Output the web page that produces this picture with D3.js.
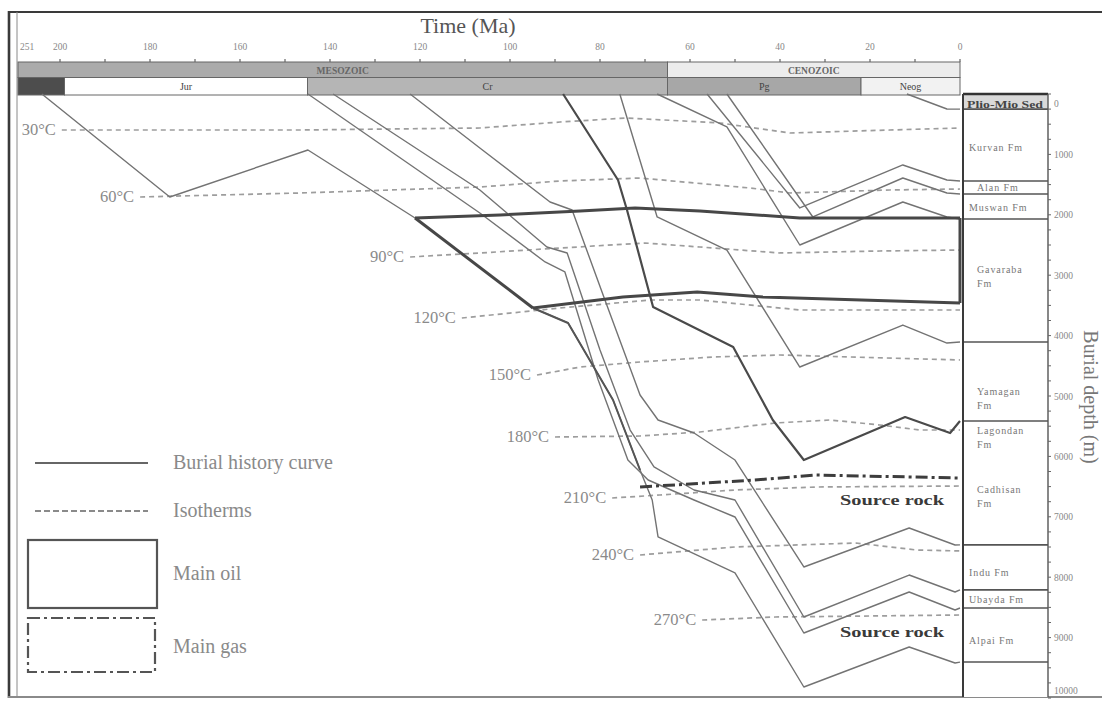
<!DOCTYPE html>
<html>
<head>
<meta charset="utf-8">
<script src="https://cdn.jsdelivr.net/npm/d3@7"></script>
<style>
  html, body { margin: 0; padding: 0; background: #fff; }
  svg { display: block; }
  text { font-family: "Liberation Serif", "Times New Roman", serif; }
</style>
</head>
<body>
<svg id="chart" width="1107" height="704"></svg>
<script>
// ---------- time scale (Ma) ----------
const timeTickValues = [251, 200, 180, 160, 140, 120, 100, 80, 60, 40, 20, 0];
const timeTickLabels = ["251", "200", "180", "160", "140", "120", "100", "80", "60", "40", "20", "0"];

const eraNames = ["MESOZOIC", "CENOZOIC"];
const eraStart = [251, 65];
const eraEnd   = [65, 0];

const periodNames = ["", "Jur", "Cr", "Pg", "Neog"];
const periodStart = [251, 199, 145, 65, 22];
const periodEnd   = [199, 145, 65, 22, 0];

// ---------- depth axis (m) ----------
const depthTicks = [0, 1000, 2000, 3000, 4000, 5000, 6000, 7000, 8000, 9000, 10000];

// ---------- stratigraphic column ----------
const formationNames = ["Plio-Mio Sed", "Kurvan Fm", "Alan Fm", "Muswan Fm", "Gavaraba Fm",
  "Yamagan Fm", "Lagondan Fm", "Cadhisan Fm", "Indu Fm", "Ubayda Fm", "Alpai Fm"];
const formationTops = [0, 250, 1440, 1655, 2070, 4105, 5415, 5415, 7465, 8210, 8510];
const columnBoundaries = [250, 1440, 1655, 2070, 4105, 5415, 7465, 8210, 8510, 9405];

// ---------- burial history curves: [age Ma, depth m] ----------
const curveA  = [[222, 0], [175.6, 1705], [144.9, 927], [121.1, 2053], [94.9, 3543], [87.1, 3791],
  [77.1, 5066], [71.1, 6225], [68.4, 6722], [67.1, 7334], [50, 7930], [34.7, 9818],
  [11.3, 9156], [1.1, 9421], [0, 9405]];
const curveB1 = [[122.2, 0], [106.7, 894], [91.1, 1788], [86.2, 1921], [78.9, 3411], [71.1, 4983],
  [67.1, 5397], [59.1, 5613], [50, 6060], [34.7, 7831], [11.3, 7185], [1.1, 7467], [0, 7465]];
const curveB2 = [[139.3, 0], [106.7, 1589], [91.8, 2533], [87.3, 2632], [80, 4238], [73.3, 5563],
  [68, 6175], [59.1, 6556], [50, 6722], [34.7, 8659], [11.3, 7964], [1.1, 8245], [0, 8210]];
const curveB3 = [[144.9, 0], [106.7, 1970], [92.2, 2781], [87.8, 2947], [80.4, 4735], [73.8, 6060],
  [69.3, 6391], [59.1, 6722], [50, 7003], [34.7, 8924], [11.3, 8245], [1.1, 8543], [0, 8510]];
const curveC  = [[75.6, 0], [67.3, 2036], [51.8, 2583], [35.6, 4520], [12.7, 3825], [2.9, 4123], [0, 4105]];
const curveD  = [[67.3, 0], [51.8, 546], [35.6, 2500], [12.7, 1788], [2.9, 2036], [0, 2070]];
const curveE1 = [[56.2, 0], [35.6, 1887], [12.7, 1175], [2.9, 1424], [0, 1440]];
const curveE2 = [[51.8, 0], [32.7, 2036], [12.7, 1391], [2.9, 1639], [0, 1655]];
const curveF  = [[11.8, 0], [2.9, 248], [0, 250]];
// heavy burial curve
const curveT  = [[88.2, 0], [76, 1424], [74, 1921], [68.2, 3526], [50.4, 4189], [41.6, 5397],
  [34.7, 6060], [12.2, 5348], [2.2, 5613], [0, 5415]];
// heavy stretch of the oldest curve below the oil window
const curveAHeavy = [[94.9, 3543], [87.1, 3791], [77.1, 5066], [71.1, 6225]];

// ---------- maturity windows ----------
const oilTop    = [[121.1, 2053], [102.2, 2003], [84.4, 1937], [72.2, 1887], [57.8, 1937], [35.6, 2053], [0, 2053]];
const oilBottom = [[94.9, 3543], [74.9, 3361], [58.4, 3278], [43.8, 3361], [0, 3460]];
const oilLeft   = [[121.1, 2053], [94.9, 3543]];
const gasTop    = [[71.1, 6507], [45.6, 6391], [32, 6308], [0, 6358]];

// ---------- isotherms ----------
const isoLabels = ["30°C", "60°C", "90°C", "120°C", "150°C", "180°C", "210°C", "240°C", "270°C"];
const iso30  = [[199.6, 596], [146.7, 596], [106.7, 563], [88.9, 464], [74, 397], [53.3, 480], [37.8, 646], [15.6, 596], [0, 563]];
const iso60  = [[182.2, 1705], [146.7, 1639], [106.7, 1540], [88.9, 1440], [71.1, 1391], [46.7, 1556], [37.8, 1639], [15.6, 1589], [0, 1573]];
const iso90  = [[122.2, 2699], [106.7, 2632], [88.9, 2550], [70, 2467], [57.8, 2533], [40, 2632], [17.8, 2599], [0, 2583]];
const iso120 = [[110.7, 3709], [88.9, 3543], [68.9, 3411], [57.8, 3411], [35.6, 3576], [0, 3576]];
const iso150 = [[94, 4652], [84.4, 4520], [71.1, 4437], [54.9, 4354], [40, 4321], [24.4, 4354], [0, 4404]];
const iso180 = [[90, 5679], [71.1, 5662], [57.8, 5596], [41.1, 5447], [28.9, 5397], [17.8, 5480], [8.9, 5563], [0, 5563]];
const iso210 = [[77.3, 6689], [66.7, 6639], [50, 6556], [32, 6507], [0, 6490]];
const iso240 = [[71.1, 7632], [50, 7500], [23.1, 7434], [9.6, 7550], [0, 7566]];
const iso270 = [[57.3, 8709], [41.1, 8659], [0, 8626]];
const isotherms = [iso30, iso60, iso90, iso120, iso150, iso180, iso210, iso240, iso270];

const sourceRockLabels = ["Source rock", "Source rock"];
const sourceRockDepths = [6722, 8908];

const legendLabels = ["Burial history curve", "Isotherms", "Main oil", "Main gas"];

// ---------- drawing ----------
const svg = d3.select("#chart");
const x = d3.scaleLinear().domain([251, 200, 0]).range([18, 60, 960]);
const y = d3.scaleLinear().domain([0, 10000]).range([94, 698]);
const line = d3.line().x(d => x(d[0])).y(d => y(d[1]));

const colX0 = 963, colX1 = 1048;

svg.append("rect").attr("width", 1107).attr("height", 704).attr("fill", "#fff");

// outer frame
svg.append("line").attr("x1", 8).attr("x2", 1102).attr("y1", 12).attr("y2", 12)
  .attr("stroke", "#3a3a3a").attr("stroke-width", 2.2);
svg.append("line").attr("x1", 9).attr("x2", 9).attr("y1", 11).attr("y2", 698)
  .attr("stroke", "#3a3a3a").attr("stroke-width", 2.6);
svg.append("line").attr("x1", 17).attr("x2", 17).attr("y1", 12).attr("y2", 697)
  .attr("stroke", "#8a8a8a").attr("stroke-width", 1);
svg.append("line").attr("x1", 8).attr("x2", 1102).attr("y1", 697).attr("y2", 697)
  .attr("stroke", "#8a8a8a").attr("stroke-width", 2.2);

// title
svg.append("text").attr("x", 468).attr("y", 33).attr("text-anchor", "middle")
  .attr("font-size", 22).attr("fill", "#555").text("Time (Ma)");

// time ticks
const bandTop = 62, bandMid = 77.5, bandBot = 95;
svg.append("g").selectAll("line").data(d3.range(0, 201, 10)).join("line")
  .attr("x1", d => x(d)).attr("x2", d => x(d)).attr("y1", bandTop - 3).attr("y2", bandTop)
  .attr("stroke", "#666").attr("stroke-width", 1.2);
svg.append("g").selectAll("text").data(timeTickValues).join("text")
  .attr("x", (d, i) => i === 0 ? 20 : x(d))
  .attr("y", 50)
  .attr("text-anchor", (d, i) => i === 0 ? "start" : "middle")
  .attr("font-size", 9.5).attr("fill", "#888")
  .text((d, i) => timeTickLabels[i]);

// era row
const eraFill = ["#ababab", "#ececec"];
const eraG = svg.append("g");
eraNames.forEach((n, i) => {
  eraG.append("rect").attr("x", x(eraStart[i])).attr("y", bandTop)
    .attr("width", x(eraEnd[i]) - x(eraStart[i])).attr("height", bandMid - bandTop)
    .attr("fill", eraFill[i]).attr("stroke", "#666").attr("stroke-width", 1);
  eraG.append("text").attr("x", (x(eraStart[i]) + x(eraEnd[i])) / 2).attr("y", bandMid - 3.5)
    .attr("text-anchor", "middle").attr("font-size", 9.5).attr("font-weight", "bold")
    .attr("fill", "#666").text(n);
});

// period row
const periodFill = ["#4d4d4d", "#ffffff", "#b5b5b5", "#a7a7a7", "#f2f2f2"];
const perG = svg.append("g");
periodNames.forEach((n, i) => {
  perG.append("rect").attr("x", x(periodStart[i])).attr("y", bandMid)
    .attr("width", x(periodEnd[i]) - x(periodStart[i])).attr("height", bandBot - bandMid)
    .attr("fill", periodFill[i]).attr("stroke", "#666").attr("stroke-width", 1);
  perG.append("text").attr("x", (x(periodStart[i]) + x(periodEnd[i])) / 2).attr("y", bandBot - 5)
    .attr("text-anchor", "middle").attr("font-size", 10).attr("fill", "#444").text(n);
});

// isotherms
const isoG = svg.append("g");
isotherms.forEach((pts, i) => {
  isoG.append("path").attr("d", line(pts)).attr("fill", "none")
    .attr("stroke", "#9d9d9d").attr("stroke-width", 1.7).attr("stroke-dasharray", "5,4");
  isoG.append("text").attr("x", x(pts[0][0]) - 6).attr("y", y(pts[0][1]) + 5)
    .attr("text-anchor", "end").attr("font-size", 16.5).attr("fill", "#8a8a8a").text(isoLabels[i]);
});

// thin burial curves
const thinCurves = [curveA, curveB1, curveB2, curveB3, curveC, curveD, curveE1, curveE2, curveF];
svg.append("g").selectAll("path").data(thinCurves).join("path")
  .attr("d", line).attr("fill", "none").attr("stroke", "#737373").attr("stroke-width", 1.4)
  .attr("stroke-linejoin", "round");

// heavy curves
svg.append("path").attr("d", line(curveAHeavy)).attr("fill", "none")
  .attr("stroke", "#555").attr("stroke-width", 2).attr("stroke-linejoin", "round");
svg.append("path").attr("d", line(curveT)).attr("fill", "none")
  .attr("stroke", "#4a4a4a").attr("stroke-width", 2.2).attr("stroke-linejoin", "round");

// main oil window
const oilG = svg.append("g").attr("fill", "none").attr("stroke", "#474747")
  .attr("stroke-width", 3).attr("stroke-linejoin", "round");
oilG.append("path").attr("d", line(oilTop));
oilG.append("path").attr("d", line(oilBottom));
oilG.append("path").attr("d", line(oilLeft));
oilG.append("path").attr("d", line([oilTop[oilTop.length - 1], oilBottom[oilBottom.length - 1]]));

// main gas window
svg.append("path").attr("d", line(gasTop)).attr("fill", "none")
  .attr("stroke", "#3d3d3d").attr("stroke-width", 3).attr("stroke-dasharray", "12,4,3,4");

// source rock labels
sourceRockLabels.forEach((t, i) => {
  svg.append("text").attr("x", 892).attr("y", y(sourceRockDepths[i]) + 5)
    .attr("text-anchor", "middle").attr("font-size", 14).attr("font-weight", "bold")
    .attr("fill", "#3a3a3a").attr("textLength", 104).attr("lengthAdjust", "spacingAndGlyphs")
    .text(t);
});

// stratigraphic column
const colG = svg.append("g");
colG.append("rect").attr("x", colX0).attr("y", y(0)).attr("width", colX1 - colX0)
  .attr("height", 697 - y(0)).attr("fill", "#fff");
colG.append("rect").attr("x", colX0).attr("y", y(0)).attr("width", colX1 - colX0)
  .attr("height", y(formationTops[1]) - y(0)).attr("fill", "#d9d9d9");
colG.selectAll("line.b").data(columnBoundaries).join("line").attr("class", "b")
  .attr("x1", colX0).attr("x2", colX1).attr("y1", d => y(d)).attr("y2", d => y(d))
  .attr("stroke", "#555").attr("stroke-width", 1.6);
colG.append("line").attr("x1", colX0).attr("x2", colX1).attr("y1", y(0)).attr("y2", y(0))
  .attr("stroke", "#333").attr("stroke-width", 2.4);
colG.append("line").attr("x1", colX0).attr("x2", colX0).attr("y1", y(0)).attr("y2", 697)
  .attr("stroke", "#3a3a3a").attr("stroke-width", 2);
colG.append("line").attr("x1", colX1).attr("x2", colX1).attr("y1", y(0)).attr("y2", 697)
  .attr("stroke", "#555").attr("stroke-width", 1.4);

// formation names (depth at which each name is written)
const nameDepth = [166, 894, 1556, 1871, 2920, 4930, 5580, 6560, 7914, 8377, 9040];
const twoLineNames = [4, 5, 6, 7];
formationNames.forEach((n, i) => {
  const parts = n.split(" ");
  const t = colG.append("text").attr("font-size", 10).attr("fill", i === 0 ? "#444" : "#777")
    .attr("font-weight", i === 0 ? "bold" : "normal").attr("letter-spacing", i === 0 ? 0 : 0.9);
  if (twoLineNames.includes(i)) {
    t.append("tspan").attr("x", 977).attr("y", y(nameDepth[i]) + 3).text(parts.slice(0, -1).join(" "));
    t.append("tspan").attr("x", 977).attr("y", y(nameDepth[i]) + 17).text(parts[parts.length - 1]);
  } else if (i === 0) {
    t.attr("x", 967).attr("y", y(nameDepth[i]) + 3.5).attr("textLength", 76)
      .attr("lengthAdjust", "spacingAndGlyphs").text(n);
  } else {
    t.attr("x", i === 2 ? 977 : 969).attr("y", y(nameDepth[i]) + 3.5).text(n);
  }
});

// depth axis
const axG = svg.append("g");
axG.selectAll("line").data(d3.range(0, 10001, 250)).join("line")
  .attr("x1", colX1).attr("x2", colX1 + 3).attr("y1", d => y(d)).attr("y2", d => y(d))
  .attr("stroke", "#666").attr("stroke-width", 1);
axG.selectAll("text").data(depthTicks).join("text")
  .attr("x", colX1 + 6).attr("y", d => Math.min(Math.max(y(d) + 3.5, 107), 694))
  .attr("font-size", 9.5).attr("fill", "#888").text(d => d);
svg.append("text").attr("transform", "translate(1084,397) rotate(90)")
  .attr("text-anchor", "middle").attr("font-size", 20).attr("fill", "#777")
  .text("Burial depth (m)");

// legend
const lg = svg.append("g");
lg.append("line").attr("x1", 35).attr("x2", 148).attr("y1", 463).attr("y2", 463)
  .attr("stroke", "#666").attr("stroke-width", 2);
lg.append("line").attr("x1", 35).attr("x2", 148).attr("y1", 511).attr("y2", 511)
  .attr("stroke", "#8a8a8a").attr("stroke-width", 2).attr("stroke-dasharray", "6,3");
lg.append("rect").attr("x", 28).attr("y", 540).attr("width", 129).attr("height", 68)
  .attr("fill", "none").attr("stroke", "#555").attr("stroke-width", 2.2);
lg.append("rect").attr("x", 28).attr("y", 618).attr("width", 127).attr("height", 54)
  .attr("fill", "none").attr("stroke", "#555").attr("stroke-width", 2.2)
  .attr("stroke-dasharray", "12,4,3,4");
const legendY = [463, 511, 574, 647];
lg.selectAll("text").data(legendLabels).join("text")
  .attr("x", 173).attr("y", (d, i) => legendY[i] + 6)
  .attr("font-size", 20).attr("fill", "#8a8a8a").text(d => d);
</script>
</body>
</html>
